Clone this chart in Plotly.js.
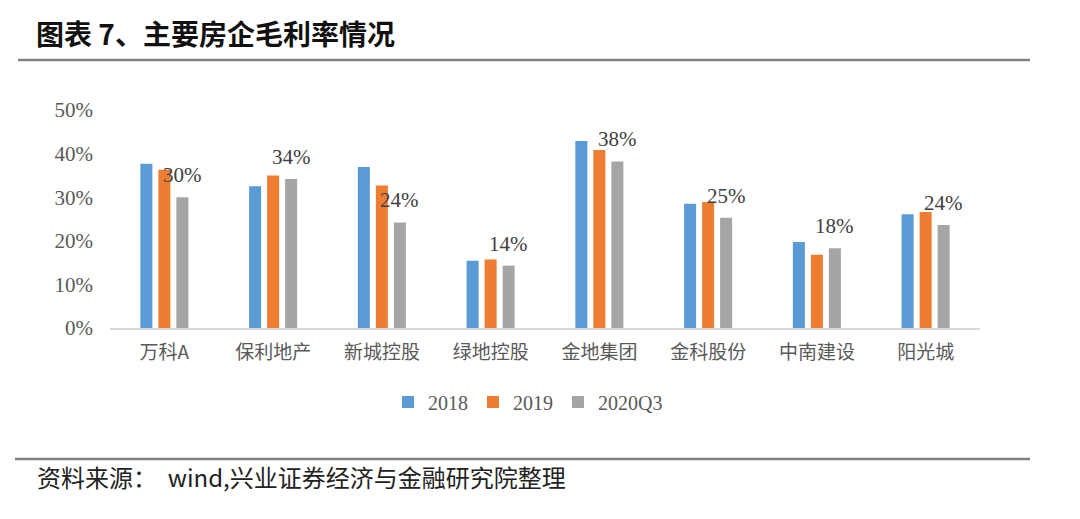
<!DOCTYPE html>
<html>
<head>
<meta charset="utf-8">
<script src="https://cdn.plot.ly/plotly-3.0.1.min.js"></script>
<style>
html,body{margin:0;padding:0;background:#fff;}
#chart{width:1080px;height:519px;}
</style>
</head>
<body>
<div id="chart"></div>
<script>
const categories = ['万科A','保利地产','新城控股','绿地控股','金地集团','金科股份','中南建设','阳光城'];
const seriesNames = ['2018','2019','2020Q3'];
const v2018 = [0.377,0.325,0.369,0.154,0.429,0.285,0.197,0.261];
const v2019 = [0.363,0.350,0.327,0.157,0.408,0.289,0.168,0.266];
const v2020Q3 = [0.300,0.342,0.242,0.143,0.382,0.253,0.183,0.236];
const yTickVals = [0,0.1,0.2,0.3,0.4,0.5];
const yTickText = ['0%','10%','20%','30%','40%','50%'];
const colors = ['#5B9BD5','#ED7D31','#A5A5A5'];

const W = 1080, H = 519;
const M = {l:110, r:100, t:110, b:191};
const pw = W - M.l - M.r, ph = H - M.t - M.b;
const px = x => (x - M.l) / pw;
const py = y => (H - M.b - y) / ph;

const serif = 'Liberation Serif, Times New Roman, serif';
const cjk = 'Noto Sans CJK SC, sans-serif';

const allSeries = [v2018, v2019, v2020Q3];
const traces = allSeries.map((vals, i) => ({
  type:'bar', name:seriesNames[i], x:categories, y:vals,
  marker:{color:colors[i]}, hoverinfo:'skip'
}));

const annotations = categories.map((c, i) => ({
  x:c, y:v2020Q3[i], xref:'x', yref:'y',
  text: Math.round(v2020Q3[i]*100) + '%',
  showarrow:false, xshift:18, yshift:22, yanchor:'middle',
  font:{family:serif, size:21, color:'#404040'}
}));
annotations.push({
  xref:'paper', yref:'paper', x:px(34), y:py(33), xanchor:'left', yanchor:'middle',
  text:'<b>图表 7、主要房企毛利率情况</b>', showarrow:false,
  font:{family:cjk, size:28, color:'#111'}
});
annotations.push({
  xref:'paper', yref:'paper', x:px(35), y:py(476), xanchor:'left', yanchor:'middle',
  text:'资料来源：  wind,兴业证券经济与金融研究院整理', showarrow:false,
  font:{family:cjk, size:24, color:'#222'}
});

const layout = {
  width:W, height:H, margin:M,
  paper_bgcolor:'#fff', plot_bgcolor:'#fff',
  barmode:'group', bargap:0.503, bargroupgap:0.333,
  showlegend:true,
  legend:{orientation:'h', x:px(528), xanchor:'center', y:py(402), yanchor:'middle',
    font:{family:serif, size:20, color:'#595959'}, itemwidth:30, traceorder:'normal'},
  xaxis:{showgrid:false, showline:true, linecolor:'#d9d9d9', linewidth:1.5,
    ticks:'', tickfont:{family:cjk, size:19, color:'#595959'}, ticklabelstandoff:7, fixedrange:true},
  yaxis:{range:[0,0.5], tickvals:yTickVals, ticktext:yTickText, showgrid:false,
    zeroline:false, showline:false, ticks:'', ticklabelstandoff:16,
    tickfont:{family:serif, size:21, color:'#595959'}, fixedrange:true},
  shapes:[
    {type:'line', xref:'paper', yref:'paper', x0:px(18), x1:px(1030), y0:py(60), y1:py(60),
     line:{color:'#808080', width:2.5}},
    {type:'line', xref:'paper', yref:'paper', x0:px(15), x1:px(1030), y0:py(459), y1:py(459),
     line:{color:'#808080', width:2.5}}
  ],
  annotations:annotations
};

Plotly.newPlot('chart', traces, layout, {displayModeBar:false, staticPlot:true});
</script>
</body>
</html>
